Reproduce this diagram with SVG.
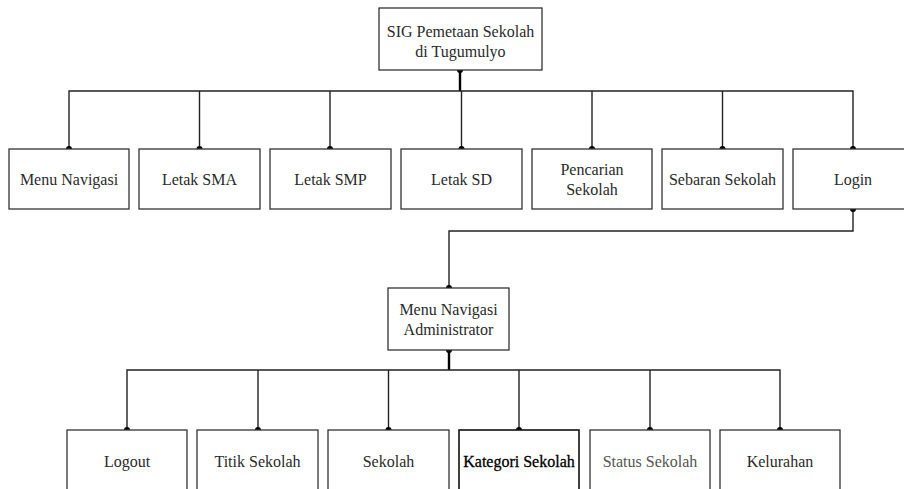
<svg xmlns="http://www.w3.org/2000/svg" width="904" height="489" viewBox="0 0 904 489">
<style>
.box{fill:#fff;stroke:#333;stroke-width:1.3}
.t{font-family:"Liberation Serif","Times New Roman",serif;font-size:16px;fill:#2a2a2a;text-anchor:middle}
.ln{fill:none;stroke:#222;stroke-width:1.4}
.thick{fill:none;stroke:#000;stroke-width:2.4}
.dot{fill:#000}
</style>
<rect width="904" height="489" fill="#fff"/>
<g id="connectors">
<path class="thick" d="M460,70 V91"/>
<path class="ln" d="M69,149 V91 H853 V149"/>
<path class="ln" d="M199.5,91 V149 M330,91 V149 M461.5,91 V149 M592,91 V149 M722.5,91 V149"/>
<path class="ln" d="M853,209 V231 H449 V288"/>
<path class="thick" d="M449,350 V370"/>
<path class="ln" d="M127,430 V370 H780 V430"/>
<path class="ln" d="M258,370 V430 M388.5,370 V430 M519,370 V430 M650,370 V430"/>
<circle class="dot" cx="460" cy="70" r="3"/>
<circle class="dot" cx="69" cy="149" r="3"/>
<circle class="dot" cx="199.5" cy="149" r="3"/>
<circle class="dot" cx="330" cy="149" r="3"/>
<circle class="dot" cx="461.5" cy="149" r="3"/>
<circle class="dot" cx="592" cy="149" r="3"/>
<circle class="dot" cx="722.5" cy="149" r="3"/>
<circle class="dot" cx="853" cy="149" r="3"/>
<circle class="dot" cx="853" cy="209" r="3"/>
<circle class="dot" cx="449" cy="288" r="3"/>
<circle class="dot" cx="449" cy="350" r="3"/>
<circle class="dot" cx="127" cy="430" r="3"/>
<circle class="dot" cx="258" cy="430" r="3"/>
<circle class="dot" cx="388.5" cy="430" r="3"/>
<circle class="dot" cx="519" cy="430" r="3"/>
<circle class="dot" cx="650" cy="430" r="3"/>
<circle class="dot" cx="780" cy="430" r="3"/>
</g>
<g id="root"><rect class="box" x="379" y="8" width="163" height="62"/><text class="t" x="460.5" y="37">SIG Pemetaan Sekolah</text><text class="t" x="460.5" y="57">di Tugumulyo</text></g>
<g id="menu-navigasi"><rect class="box" x="9" y="149" width="120" height="60"/><text class="t" x="69" y="185">Menu Navigasi</text></g>
<g id="letak-sma"><rect class="box" x="139" y="149" width="121" height="60"/><text class="t" x="199.5" y="185">Letak SMA</text></g>
<g id="letak-smp"><rect class="box" x="270" y="149" width="121" height="60"/><text class="t" x="330.5" y="185">Letak SMP</text></g>
<g id="letak-sd"><rect class="box" x="401" y="149" width="121" height="60"/><text class="t" x="461.5" y="185">Letak SD</text></g>
<g id="pencarian"><rect class="box" x="532" y="149" width="120" height="60"/><text class="t" x="592" y="175">Pencarian</text><text class="t" x="592" y="195">Sekolah</text></g>
<g id="sebaran"><rect class="box" x="662" y="149" width="121" height="60"/><text class="t" x="722.5" y="185">Sebaran Sekolah</text></g>
<g id="login"><rect class="box" x="793" y="149" width="121" height="60"/><text class="t" x="853" y="185">Login</text></g>
<g id="admin"><rect class="box" x="388" y="288" width="121" height="62"/><text class="t" x="448.5" y="315">Menu Navigasi</text><text class="t" x="448.5" y="335">Administrator</text></g>
<g id="logout"><rect class="box" x="67" y="430" width="120" height="64"/><text class="t" x="127" y="467">Logout</text></g>
<g id="titik"><rect class="box" x="197" y="430" width="121" height="64"/><text class="t" x="257.5" y="467">Titik Sekolah</text></g>
<g id="sekolah"><rect class="box" x="328" y="430" width="121" height="64"/><text class="t" x="388.5" y="467">Sekolah</text></g>
<g id="kategori"><rect class="box" x="459" y="430" width="120" height="64" style="stroke:#111;stroke-width:1.6"/><text class="t" x="519" y="467" style="fill:#000;stroke:#000;stroke-width:0.3">Kategori Sekolah</text></g>
<g id="status"><rect class="box" x="590" y="430" width="120" height="64"/><text class="t" x="650" y="467" style="fill:#555">Status Sekolah</text></g>
<g id="kelurahan"><rect class="box" x="720" y="430" width="120" height="64"/><text class="t" x="780" y="467">Kelurahan</text></g>
</svg>
